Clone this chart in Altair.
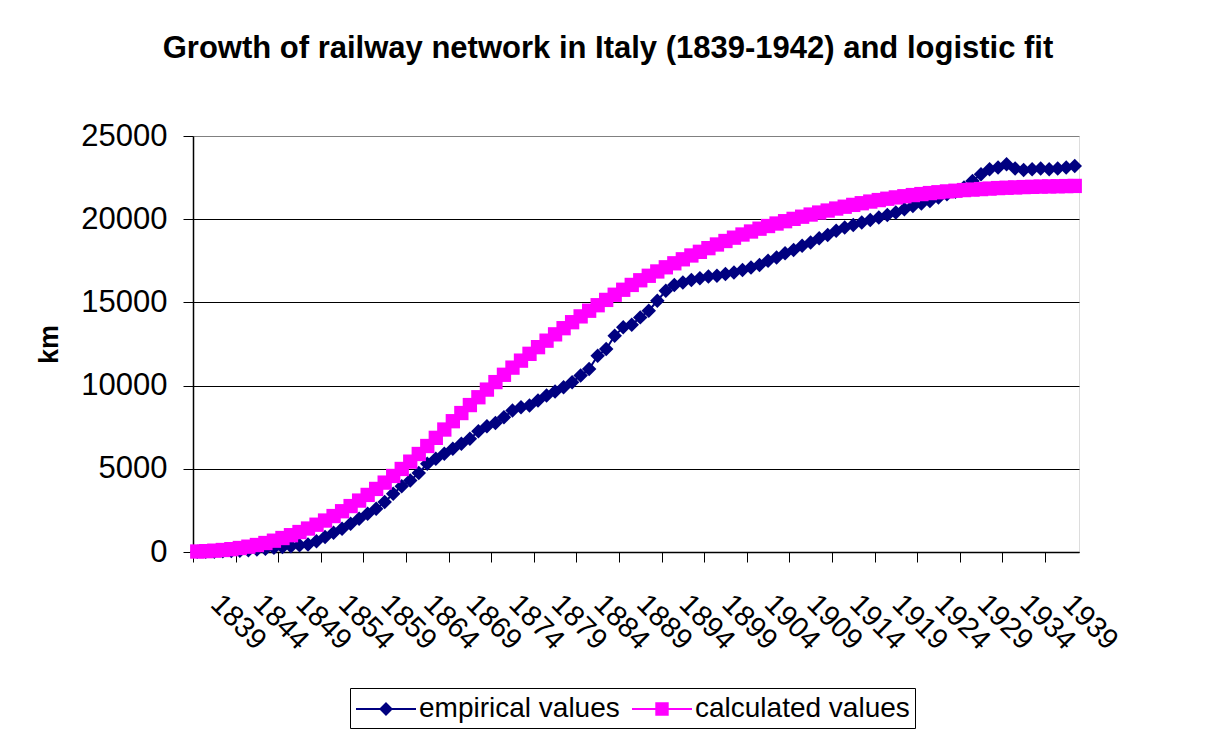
import altair as alt
import pandas as pd

# ---- data ----
years = list(range(1839, 1943))

empirical = [8, 20, 20, 40, 60, 80, 110, 150, 200, 250,
             300, 350, 400, 450, 650, 900, 1150, 1400, 1700, 2000,
             2300, 2600, 3000, 3500, 3950, 4300, 4750, 5300, 5600, 5900,
             6200, 6500, 6800, 7250, 7550, 7750, 8100, 8500, 8700, 8800,
             9100, 9400, 9650, 9900, 10200, 10600, 11000, 11800, 12200, 13000,
             13500, 13650, 14100, 14500, 15100, 15700, 16050, 16200, 16350, 16450,
             16550, 16600, 16700, 16800, 16950, 17100, 17250, 17500, 17700, 17950,
             18150, 18400, 18600, 18850, 19050, 19300, 19500, 19650, 19800, 19950,
             20100, 20250, 20400, 20600, 20800, 20950, 21100, 21300, 21500, 21650,
             21900, 22300, 22700, 23000, 23100, 23300, 23050, 22950, 23000, 23050,
             23000, 23050, 23100, 23200]

calculated = [30, 50, 80, 120, 170, 240, 320, 420, 540, 680,
              840, 1010, 1200, 1410, 1640, 1890, 2160, 2450, 2760, 3090,
              3430, 3790, 4170, 4570, 4990, 5430, 5890, 6370, 6860, 7360,
              7860, 8350, 8830, 9300, 9760, 10210, 10650, 11080, 11500, 11910,
              12310, 12700, 13080, 13450, 13810, 14160, 14500, 14830, 15150, 15460,
              15760, 16050, 16330, 16600, 16860, 17110, 17350, 17590, 17820, 18040,
              18260, 18480, 18690, 18890, 19080, 19260, 19430, 19590, 19740, 19880,
              20020, 20150, 20280, 20400, 20520, 20640, 20750, 20860, 20960, 21060,
              21150, 21230, 21310, 21380, 21450, 21510, 21570, 21620, 21670, 21710,
              21750, 21780, 21810, 21840, 21870, 21890, 21910, 21930, 21945, 21960,
              21970, 21980, 21990, 22000]

series_names = ["empirical values", "calculated values"]
series_colors = ["#000080", "#FF00FF"]
label_years = list(range(1839, 1940, 5))
y_ticks = [0, 5000, 10000, 15000, 20000, 25000]

df = pd.DataFrame({
    "year": years * 2,
    "km": empirical + calculated,
    "series": [series_names[0]] * len(years) + [series_names[1]] * len(years),
})

FONT = "Liberation Sans"

x_enc = alt.X(
    "year:Q",
    scale=alt.Scale(domain=[years[0] - 0.5, years[-1] + 0.5], nice=False, zero=False),
    axis=alt.Axis(
        values=[y - 0.5 for y in label_years],
        labelExpr="format(datum.value + 0.5, 'd')",
        labelAngle=45, labelAlign="left", labelBaseline="top",
        labelFont=FONT, labelFontSize=29, labelColor="black",
        labelPadding=27, labelOffset=32,
        labelOverlap=False, labelFlush=False, labelBound=False,
        tickSize=10, tickColor="black", tickWidth=1,
        domainColor="black", domainWidth=1.5,
        grid=False, title=None,
    ),
)

y_enc = alt.Y(
    "km:Q",
    scale=alt.Scale(domain=[0, 25000], nice=False),
    axis=alt.Axis(
        values=y_ticks, format="d",
        labelFont=FONT, labelFontSize=31, labelColor="black", labelPadding=16,
        tickSize=10, tickColor="black", tickWidth=1,
        domainColor="black", domainWidth=1.5,
        grid=True, gridWidth=1,
        gridColor={"condition": {"test": "datum.value >= 25000", "value": "#808080"}, "value": "black"},
        title="km", titleFont=FONT, titleFontSize=27, titleFontWeight="bold", titleColor="black",
        titleAngle=270, titleAlign="center", titleBaseline="middle",
        titleX=-144, titleY=208,
    ),
)

base = alt.Chart(df)

emp = base.transform_filter(alt.datum.series == series_names[0])
calc = base.transform_filter(alt.datum.series == series_names[1])

emp_line = emp.mark_line(color=series_colors[0], strokeWidth=2).encode(x=x_enc, y=y_enc)
emp_pts = emp.mark_point(shape="diamond", filled=True, size=210, color=series_colors[0],
                         opacity=1).encode(x=x_enc, y=y_enc)
calc_line = calc.mark_line(color=series_colors[1], strokeWidth=2).encode(x=x_enc, y=y_enc)
calc_pts = calc.mark_point(shape="square", filled=True, size=205, color=series_colors[1],
                           opacity=1).encode(x=x_enc, y=y_enc)

# legend symbols: a short line with the marker in its middle
legend_shapes = [
    "M-1,0L3,0M1,-0.37L1.37,0L1,0.37L0.63,0Z",
    "M-1,0L3,0M0.62,-0.38L1.38,-0.38L1.38,0.38L0.62,0.38Z",
]
leg = alt.Legend(
    title=None, orient="none", legendX=157, legendY=552, direction="horizontal",
    labelFont=FONT, labelFontSize=28, labelColor="black", labelLimit=600,
    symbolSize=900, symbolStrokeWidth=2, symbolOpacity=1,
    labelOffset=32, columnPadding=8, padding=5,
    strokeColor="black", fillColor="white",
)
legend_layer = base.transform_filter("false").mark_point(filled=True, opacity=1).encode(
    x=x_enc, y=y_enc,
    fill=alt.Fill("series:N", scale=alt.Scale(domain=series_names, range=series_colors), legend=leg),
    stroke=alt.Stroke("series:N", scale=alt.Scale(domain=series_names, range=series_colors), legend=leg),
    shape=alt.Shape("series:N", scale=alt.Scale(domain=series_names, range=legend_shapes), legend=leg),
)

chart = alt.layer(emp_line, emp_pts, calc_line, calc_pts, legend_layer).properties(
    width=886, height=416,
    title=alt.TitleParams(
        text="Growth of railway network in Italy (1839-1942) and logistic fit",
        font=FONT, fontSize=31, fontWeight="bold", color="black",
        anchor="middle", frame="group", dx=-28, offset=31, baseline="alphabetic",
    ),
    autosize=alt.AutoSizeParams(type="none"),
    padding={"left": 185, "top": 128, "right": 121, "bottom": 179},
).configure_view(
    fill="#C0C0C0", stroke="#808080", strokeWidth=2,
).configure(background="white")

chart.save("out.html", embed_options={"renderer": "svg", "actions": False})
